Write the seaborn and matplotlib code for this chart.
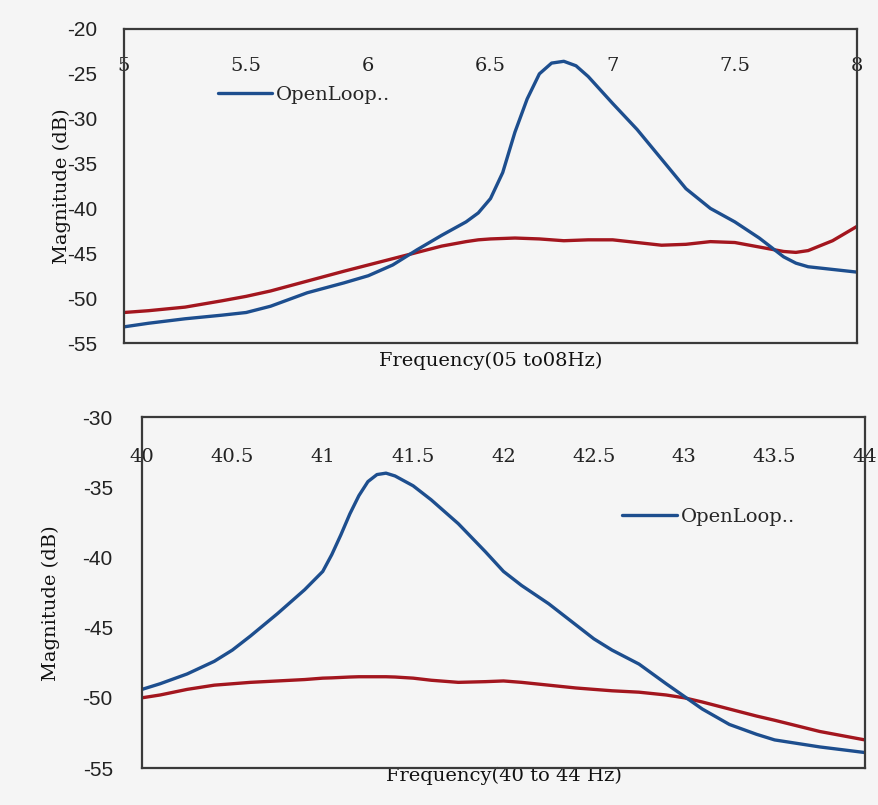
import matplotlib
matplotlib.use("Agg")
import matplotlib.pyplot as plt
import numpy as np
import pandas as pd
import seaborn as sns

# Upper panel: 5 to 8 Hz
freq_low = [5.0, 5.1, 5.25, 5.4, 5.5, 5.6, 5.75, 5.9, 6.0, 6.1, 6.2, 6.3, 6.4, 6.45, 6.5,
            6.55, 6.6, 6.65, 6.7, 6.75, 6.8, 6.85, 6.9, 6.95, 7.0, 7.1, 7.2, 7.3, 7.4, 7.5,
            7.6, 7.7, 7.75, 7.8, 7.9, 8.0]
open_low = [-53.2, -52.8, -52.3, -51.9, -51.6, -50.9, -49.4, -48.3, -47.5, -46.3, -44.6, -43.0,
            -41.5, -40.5, -38.9, -36.0, -31.5, -27.8, -25.0, -23.8, -23.6, -24.1, -25.3,
            -26.8, -28.3, -31.2, -34.5, -37.8, -40.0, -41.5, -43.3, -45.4, -46.1, -46.5,
            -46.8, -47.1]
closed_low = [-51.6, -51.4, -51.0, -50.3, -49.8, -49.2, -48.1, -47.0, -46.3, -45.6, -44.9,
              -44.2, -43.7, -43.5, -43.4, -43.35, -43.3, -43.35, -43.4, -43.5, -43.6, -43.55,
              -43.5, -43.5, -43.5, -43.8, -44.1, -44.0, -43.7, -43.8, -44.3, -44.8, -44.9,
              -44.7, -43.6, -42.0]

# Lower panel: 40 to 44 Hz
freq_high = [40.0, 40.1, 40.25, 40.4, 40.5, 40.6, 40.75, 40.9, 41.0, 41.05, 41.1, 41.15, 41.2,
             41.25, 41.3, 41.35, 41.4, 41.5, 41.6, 41.75, 41.9, 42.0, 42.1, 42.25, 42.4, 42.5,
             42.6, 42.75, 42.9, 43.0, 43.1, 43.25, 43.4, 43.5, 43.75, 44.0]
open_high = [-49.4, -49.0, -48.3, -47.4, -46.6, -45.6, -44.0, -42.3, -41.0, -39.8, -38.4, -36.9,
             -35.6, -34.6, -34.1, -34.0, -34.2, -34.9, -35.9, -37.6, -39.6, -41.0, -42.0, -43.3,
             -44.8, -45.8, -46.6, -47.6, -49.0, -49.9, -50.8, -51.9, -52.6, -53.0, -53.5, -53.9]
closed_high = [-50.0, -49.8, -49.4, -49.1, -49.0, -48.9, -48.8, -48.7, -48.6, -48.58, -48.55,
               -48.52, -48.5, -48.5, -48.5, -48.5, -48.52, -48.6, -48.75, -48.9, -48.85, -48.8,
               -48.9, -49.1, -49.3, -49.4, -49.5, -49.6, -49.8, -50.0, -50.3, -50.8, -51.3,
               -51.6, -52.4, -53.0]

BLUE = "#1d4e8e"
RED = "#a3161e"
BG = "#f5f5f5"

sns.set_style("white")
plt.rcParams["font.family"] = ["DejaVu Serif"]
plt.rcParams["axes.unicode_minus"] = False

fig = plt.figure(figsize=(8.79, 8.05), dpi=100, facecolor=BG)

panels = [
    dict(freq=freq_low, open=open_low, closed=closed_low,
         rect=[124 / 879, 1 - 343 / 805, 733 / 879, 314 / 805],
         xlim=(5, 8), xticks=[5, 5.5, 6, 6.5, 7, 7.5, 8], ylim=(-55, -20),
         xlabel="Frequency(05 to08Hz)", xpad=-33, ypad=19,
         ylab_xy=(-0.072, 0.5), xlab_xy=(0.5, -0.028), leg=(0.128, 0.79)),
    dict(freq=freq_high, open=open_high, closed=closed_high,
         rect=[142 / 879, 1 - 768 / 805, 723 / 879, 351 / 805],
         xlim=(40, 44), xticks=[40, 40.5, 41, 41.5, 42, 42.5, 43, 43.5, 44], ylim=(-55, -30),
         xlabel="Frequency(40 to 44 Hz)", xpad=-35, ypad=21,
         ylab_xy=(-0.113, 0.47), xlab_xy=(0.5, 0.004), leg=(0.664, 0.715)),
]

for p in panels:
    ax = fig.add_axes(p["rect"])
    ax.set_facecolor(BG)
    df = pd.DataFrame({"freq": p["freq"], "open": p["open"], "closed": p["closed"]})
    sns.lineplot(data=df, x="freq", y="closed", color=RED, lw=2.4, ax=ax, legend=False)
    sns.lineplot(data=df, x="freq", y="open", color=BLUE, lw=2.4, ax=ax, label="OpenLoop..")

    ax.set_xlim(*p["xlim"])
    ax.set_ylim(*p["ylim"])
    ax.set_xticks(p["xticks"])
    ax.set_xticklabels([f"{t:g}" for t in p["xticks"]])
    ax.set_yticks(np.arange(p["ylim"][0], p["ylim"][1] + 1, 5))
    ax.tick_params(axis="x", bottom=False, labelbottom=False, top=True, labeltop=True,
                   length=0, pad=p["xpad"], labelsize=14, colors="#222222")
    ax.tick_params(axis="y", length=0, pad=p["ypad"], labelsize=15, colors="#222222")
    for lab in ax.get_yticklabels():
        lab.set_family("Liberation Sans")

    ax.set_xlabel(p["xlabel"], fontsize=14, color="#111111")
    ax.set_ylabel("Magnitude (dB)", fontsize=14, color="#111111")
    ax.xaxis.set_label_coords(*p["xlab_xy"])
    ax.yaxis.set_label_coords(*p["ylab_xy"])

    for s in ax.spines.values():
        s.set_color("#3a3a3a")
        s.set_linewidth(1.6)

    ax.legend(loc="center left", bbox_to_anchor=p["leg"], frameon=False, fontsize=14,
              handlelength=2.8, handletextpad=0.2, borderpad=0, borderaxespad=0)

fig.savefig("out.png", dpi=100, facecolor=BG)
